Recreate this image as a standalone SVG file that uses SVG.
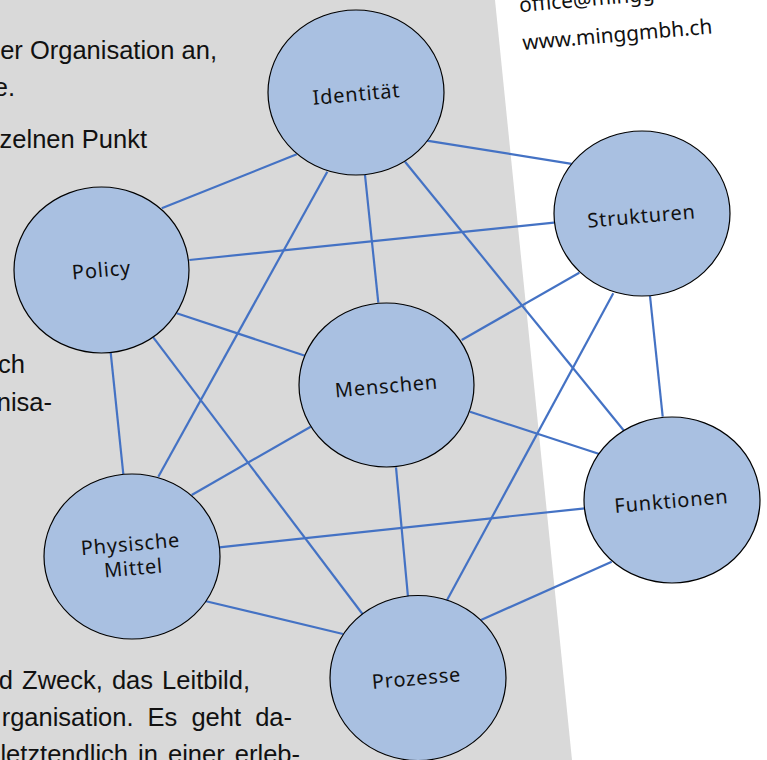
<svg xmlns="http://www.w3.org/2000/svg" width="767" height="760" viewBox="0 0 767 760">
  <style>
    .body { font-family: "Liberation Sans", Arial, sans-serif; font-size: 25.5px; fill: #111; }
    .web { font-family: "Noto Sans", "Open Sans", sans-serif; font-size: 20.8px; fill: #111; }
    .edge { stroke: #4472c4; stroke-width: 2.2; fill: none; stroke-linecap: butt; }
    .node ellipse { fill: #a9c0e1; stroke: #000; stroke-width: 1.2; }
    .node text { font-family: "Noto Sans", "Open Sans", sans-serif; font-size: 20px; letter-spacing: 0.8px; fill: #111; text-anchor: middle; }
  </style>

  <!-- page background -->
  <rect x="0" y="0" width="767" height="760" fill="#ffffff"/>
  <polygon points="0,0 495,0 572,760 0,760" fill="#d9d9d9"/>

  <!-- running body text behind the figure (justified lines) -->
  <g id="body-text" class="body" text-anchor="end">
    <text x="217" y="59">er Organisation an,</text>
    <text x="15" y="96">e.</text>
    <text x="147" y="148">zelnen Punkt</text>
    <text x="25" y="373">ch</text>
    <text x="52" y="411">nisa-</text>
    <text x="250" y="689" word-spacing="2">d Zweck, das Leitbild,</text>
    <text x="292" y="726" word-spacing="7">rganisation. Es geht da-</text>
    <text x="300" y="763" word-spacing="3">letztendlich in einer erleb-</text>
  </g>

  <!-- contact block -->
  <g id="contact" class="web" transform="translate(523,50) rotate(-5)">
    <text x="0" y="-38">office@minggmbh.ch</text>
    <text x="0" y="0">www.minggmbh.ch</text>
  </g>

  <!-- connectors -->
  <g id="connectors" class="edge">
    <line x1="161.7" y1="208.3" x2="296.7" y2="154.3"/>  <!-- Policy - Identität -->
    <line x1="426.7" y1="140.7" x2="571.7" y2="163.8"/>  <!-- Identität - Strukturen -->
    <line x1="327.3" y1="171.7" x2="158.3" y2="476.7"/>  <!-- Identität - Physische Mittel -->
    <line x1="365" y1="175" x2="378.3" y2="302.7"/>      <!-- Identität - Menschen -->
    <line x1="405" y1="161.7" x2="624" y2="430.7"/>      <!-- Identität - Funktionen -->
    <line x1="189.3" y1="260" x2="554" y2="222.7"/>      <!-- Policy - Strukturen -->
    <line x1="176.7" y1="313.3" x2="305" y2="355.7"/>    <!-- Policy - Menschen -->
    <line x1="110.7" y1="352.7" x2="123.3" y2="474"/>    <!-- Policy - Physische Mittel -->
    <line x1="152.7" y1="336.7" x2="364" y2="616"/>      <!-- Policy - Prozesse -->
    <line x1="579.3" y1="272.7" x2="461.7" y2="340"/>    <!-- Strukturen - Menschen -->
    <line x1="613.3" y1="293.3" x2="446" y2="602"/>      <!-- Strukturen - Prozesse -->
    <line x1="650" y1="296" x2="662.7" y2="416.7"/>      <!-- Strukturen - Funktionen -->
    <line x1="310.7" y1="426.7" x2="191.7" y2="495"/>    <!-- Menschen - Physische Mittel -->
    <line x1="470" y1="411.7" x2="599.3" y2="454"/>      <!-- Menschen - Funktionen -->
    <line x1="396" y1="467.3" x2="408" y2="597"/>        <!-- Menschen - Prozesse -->
    <line x1="219.3" y1="547.3" x2="585" y2="508.3"/>    <!-- Physische Mittel - Funktionen -->
    <line x1="205" y1="601" x2="343" y2="634"/>          <!-- Physische Mittel - Prozesse -->
    <line x1="611.7" y1="561.7" x2="481" y2="620"/>      <!-- Funktionen - Prozesse -->
  </g>

  <!-- nodes -->
  <g id="identitaet" class="node">
    <ellipse cx="356" cy="92.5" rx="88" ry="82.5"/>
    <text transform="translate(357,101) rotate(-5)">Identität</text>
  </g>
  <g id="strukturen" class="node">
    <ellipse cx="642" cy="213.5" rx="88" ry="82.5"/>
    <text transform="translate(642,223) rotate(-5)">Strukturen</text>
  </g>
  <g id="policy" class="node">
    <ellipse cx="101.5" cy="270" rx="87.5" ry="83"/>
    <text transform="translate(102,277) rotate(-5)">Policy</text>
  </g>
  <g id="menschen" class="node">
    <ellipse cx="386.5" cy="385" rx="87.5" ry="82"/>
    <text transform="translate(387,393) rotate(-5)">Menschen</text>
  </g>
  <g id="funktionen" class="node">
    <ellipse cx="672" cy="500" rx="88" ry="83"/>
    <text transform="translate(672,508) rotate(-5)">Funktionen</text>
  </g>
  <g id="physische-mittel" class="node">
    <ellipse cx="132" cy="556.5" rx="88" ry="82.5"/>
    <text transform="translate(131,551) rotate(-5)">Physische</text>
    <text transform="translate(134,575) rotate(-5)">Mittel</text>
  </g>
  <g id="prozesse" class="node">
    <ellipse cx="418" cy="678" rx="88" ry="82.5"/>
    <text transform="translate(417,685) rotate(-5)">Prozesse</text>
  </g>
</svg>
